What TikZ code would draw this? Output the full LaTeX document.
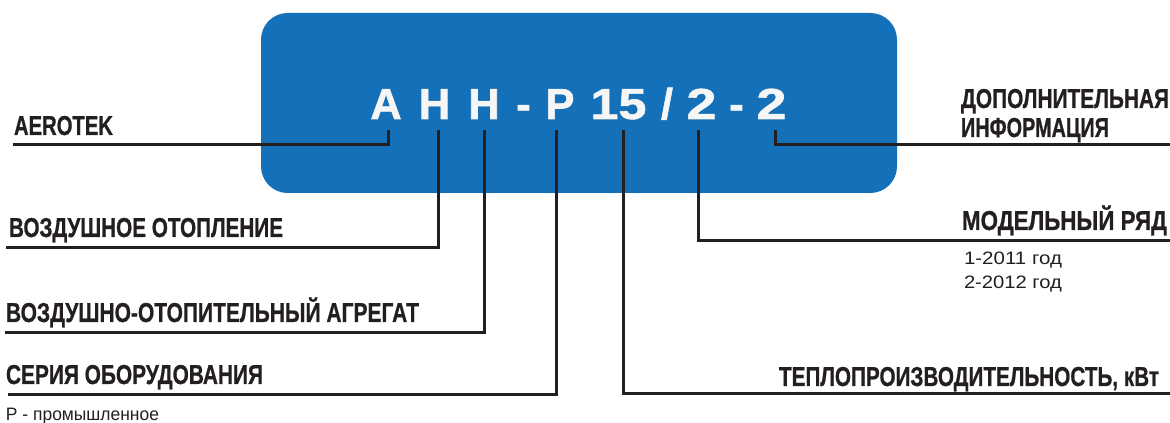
\documentclass[tikz,border=0pt]{standalone}
\usepackage{fontspec}
\setmainfont{Liberation Sans}
\newfontfamily\labfont{Liberation Sans Bold}[FakeBold=0.9]
\newfontfamily\codefont{Liberation Sans Bold}[FakeBold=1.3]
\usepackage{graphicx}
\definecolor{boxblue}{RGB}{20,112,184}
\definecolor{ink}{RGB}{35,31,32}
\definecolor{codewhite}{RGB}{246,246,246}
\newlength\fitlen
\newcommand\fitto[2]{\settowidth{\fitlen}{#2}\pgfmathsetmacro\fitsc{#1*0.75/\fitlen}\scalebox{\fitsc}[1]{#2}}
\tikzset{
  lab/.style={anchor=base west, inner sep=0pt, outer sep=0pt, text=ink, font=\labfont\fontsize{20.5}{20.5}\selectfont},
  note/.style={anchor=base west, inner sep=0pt, outer sep=0pt, text=ink, font=\fontsize{13.5}{13.5}\selectfont},
  code/.style={anchor=base, inner sep=0pt, outer sep=0pt, text=codewhite, font=\codefont\fontsize{32.5}{32.5}\selectfont},
  conn/.style={draw=ink, line width=2.25pt, line join=miter},
}
\begin{document}
\begin{tikzpicture}[x=0.75pt,y=-0.75pt]
\useasboundingbox (0,0) rectangle (1170,423);
% blue box
\node (box) [fill=boxblue, rounded corners=20pt, inner sep=0pt, minimum width=477pt, minimum height=135pt] at (579,103) {};
% code characters
\node[code] (cA)  at (386,119)   {А};
\node[code] (cH1) at (434.5,119) {Н};
\node[code] (cH2) at (484,119)   {Н};
\node[code] (cd1) at (523.5,119) {-};
\node[code] (cP)  at (560,119)   {Р};
\node[code] (c15) at (618.5,119) {\fitto{56}{15}};
\node[code] (csl) at (667,119)   {/};
\node[code] (c2a) at (701.5,119) {\fitto{30}{2}};
\node[code] (cd2) at (736.5,119) {-};
\node[code] (c2b) at (771.5,119) {\fitto{30}{2}};
% labels left
\node[lab] (lAero) at (14,135) {\fitto{99}{AEROTEK}};
\node[lab] (lVozd) at (9,237)  {\fitto{274}{ВОЗДУШНОЕ ОТОПЛЕНИЕ}};
\node[lab] (lAgr)  at (6,322)  {\fitto{413}{ВОЗДУШНО-ОТОПИТЕЛЬНЫЙ АГРЕГАТ}};
\node[lab] (lSer)  at (6,384)  {\fitto{257}{СЕРИЯ ОБОРУДОВАНИЯ}};
\node[note] (nSer) at (6,421)  {\fitto{153}{Р - промышленное}};
% labels right
\node[lab] (lDop1) at (961,108) {\fitto{208}{ДОПОЛНИТЕЛЬНАЯ}};
\node[lab] (lDop2) at (961,137) {\fitto{148}{ИНФОРМАЦИЯ}};
\node[lab] (lMod)  at (962,230) {\fitto{205}{МОДЕЛЬНЫЙ РЯД}};
\node[note] (nM1)  at (964,265) {\fitto{98}{1-2011 год}};
\node[note] (nM2)  at (964,289) {\fitto{98}{2-2012 год}};
\node[lab] (lTep)  at (779,386) {\fitto{380}{ТЕПЛОПРОИЗВОДИТЕЛЬНОСТЬ, кВт}};
% connector ends
\coordinate (tA)  at (388,130);  \coordinate (eA)  at (13,145);
\coordinate (tH1) at (438,130);  \coordinate (eH1) at (6,248);
\coordinate (tH2) at (484,130);  \coordinate (eH2) at (5,333);
\coordinate (tP)  at (556,130);  \coordinate (eP)  at (8,395);
\coordinate (t15) at (623,130);  \coordinate (e15) at (1170,394);
\coordinate (t2a) at (698,130);  \coordinate (e2a) at (1170,241);
\coordinate (t2b) at (775,130);  \coordinate (e2b) at (1170,145);
\draw[conn] (tA)  |- (eA);
\draw[conn] (tH1) |- (eH1);
\draw[conn] (tH2) |- (eH2);
\draw[conn] (tP)  |- (eP);
\draw[conn] (t15) |- (e15);
\draw[conn] (t2a) |- (e2a);
\draw[conn] (t2b) |- (e2b);
\end{tikzpicture}
\end{document}
